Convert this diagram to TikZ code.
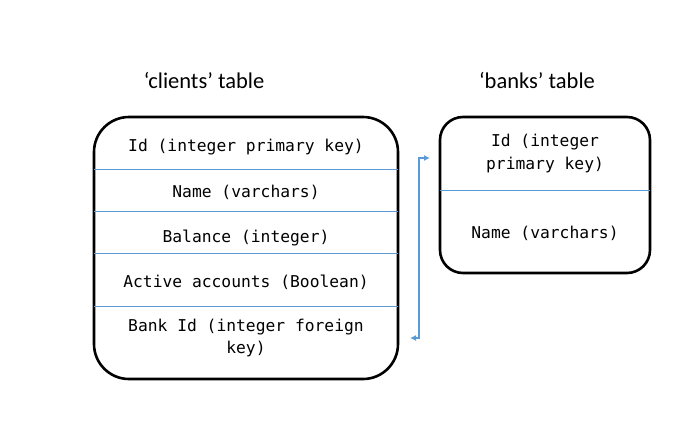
\documentclass[tikz,border=0pt]{standalone}
\usepackage{fontspec}
\setmainfont{Carlito}
\setmonofont{DejaVu Sans Mono}
\usetikzlibrary{arrows.meta}
\definecolor{linkblue}{RGB}{91,155,213}

\begin{document}
\begin{tikzpicture}[x=1pt, y=-1pt,
        tablebox/.style={line width=2.6pt},
        rowline/.style={linkblue, line width=0.9pt},
        field/.style={font=\ttfamily\fontsize{16.3}{22}\selectfont, align=center},
        caption/.style={font=\fontsize{22.5}{27}\selectfont},
        link/.style={linkblue, line width=1.6pt, {Latex[length=6pt,width=6pt]}-{Latex[length=6pt,width=6pt]}}]
        \useasboundingbox (0,0) rectangle (683,432);

        % Titles of the two tables
        \node[caption] (clientstitle) at (204,80) {‘clients’ table};
        \node[caption] (bankstitle) at (537,80) {‘banks’ table};

        % Draw the 'clients' table
        \draw[tablebox, rounded corners=35pt] (94,117) rectangle (398,379);
        \draw[rowline] (94,169) -- (398,169);
        \draw[rowline] (94,211) -- (398,211);
        \draw[rowline] (94,253) -- (398,253);
        \draw[rowline] (94,306) -- (398,306);
        \node[field] (cid) at (246,147) {Id (integer primary key)};
        \node[field] (cname) at (246,192) {Name (varchars)};
        \node[field] (cbalance) at (246,238) {Balance (integer)};
        \node[field] (cactive) at (246,282) {Active accounts (Boolean)};
        \node[field] (cbankid) at (246,338) {Bank Id (integer foreign\\key)};

        % Draw the 'banks' table
        \draw[tablebox, rounded corners=23pt] (440,117) rectangle (650,273);
        \draw[rowline] (440,190) -- (650,190);
        \node[field, font=\ttfamily\fontsize{16.3}{23}\selectfont] (bid) at (545,153) {Id (integer\\primary key)};
        \node[field] (bname) at (545,233) {Name (varchars)};

        % Foreign key link between the tables
        \coordinate (fk) at (410,338);
        \coordinate (pk) at (430,158);
        \draw[link] (fk) -- ++(9,0) |- (pk);
    \end{tikzpicture}
\end{document}
